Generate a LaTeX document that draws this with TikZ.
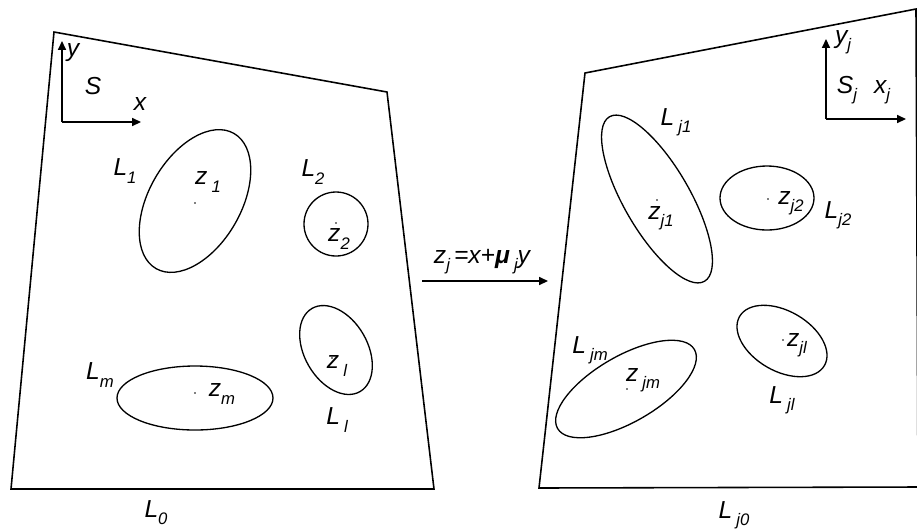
\documentclass[tikz,border=0pt]{standalone}
\usepackage{fontspec}
\setmainfont{Liberation Sans}
\usetikzlibrary{arrows.meta}
\newcommand{\idx}[1]{\raisebox{-0.55ex}{\fontsize{9.5}{10}\selectfont #1}}

\begin{document}
\begin{tikzpicture}[
    x=0.02cm, y=-0.02cm,
    plate/.style={line width=0.9pt, line join=miter},
    hole/.style={line width=0.75pt},
    axis/.style={-{Triangle[length=5pt, width=4.5pt]}, line width=0.8pt},
    lbl/.style={font=\fontsize{14}{16}\selectfont\itshape, inner sep=0pt},
    pt/.style={fill=black}
]
    \useasboundingbox (0,0) rectangle (917,529);

    % Plate S
    \draw[plate] (54,32) -- (387,92) -- (434,489) -- (11,489) -- cycle;
    \coordinate (o) at (62,122);
    \coordinate (oy) at (62,41);
    \coordinate (ox) at (141,122);
    \draw[axis] (o) -- (oy);
    \draw[axis] (o) -- (ox);
    \node[lbl] (ylab) at (73,53) {y};
    \node[lbl] (slab) at (93,86) {S};
    \node[lbl] (xlab) at (140,104) {x};

    % holes of S
    \draw[hole] (195,201) ellipse [x radius=78, y radius=46, rotate=60];
    \draw[hole] (336,224) circle (32);
    \draw[hole] (195,398) ellipse [x radius=78, y radius=32];
    \draw[hole] (336,350) ellipse [x radius=48, y radius=31.5, rotate=120];
    \fill[pt] (195,203) circle (0.8);
    \fill[pt] (336,223) circle (0.8);
    \fill[pt] (195,393) circle (0.8);
    \fill[pt] (332,358) circle (0.8);

    \node[lbl] (Lone) at (125,171) {L\idx{1}};
    \node[lbl] (zone) at (208,182) {z\,\idx{1}};
    \node[lbl] (Ltwo) at (313,172) {L\idx{2}};
    \node[lbl] (ztwo) at (339,239) {z\idx{2}};
    \node[lbl] (Lm) at (100,375) {L\idx{m}};
    \node[lbl] (zm) at (222,394) {z\idx{m}};
    \node[lbl] (zl) at (337,366) {z\,\idx{l}};
    \node[lbl] (Ll) at (337,420) {L\,\idx{l}};
    \node[lbl] (Lzero) at (156,513) {L\idx{0}};

    % mapping
    \coordinate (mapL) at (422,281);
    \coordinate (mapR) at (548,281);
    \draw[axis] (mapL) -- (mapR);
    \node[lbl] (map) at (482,262) {z\idx{j}\,=x+\textbf{μ}\,\idx{j}y};

    % Plate S_j
    \draw[plate] (916,9) -- (585,73) -- (539,488) -- (918,487) -- cycle;
    \coordinate (oj) at (826,119);
    \coordinate (ojy) at (826,39);
    \coordinate (ojx) at (906,119);
    \draw[axis] (oj) -- (ojy);
    \draw[axis] (oj) -- (ojx);
    \node[lbl] (yjlab) at (843,42) {y\idx{j}};
    \node[lbl] (sjlab) at (847,90) {S\idx{j}};
    \node[lbl] (xjlab) at (882,92) {x\idx{j}};

    % holes of S_j
    \draw[hole] (657,199) ellipse [x radius=95, y radius=33, rotate=120];
    \draw[hole] (767,198) ellipse [x radius=47, y radius=32];
    \draw[hole] (782,341) ellipse [x radius=49, y radius=30, rotate=150];
    \draw[hole] (626,389) ellipse [x radius=79, y radius=33, rotate=30];
    \fill[pt] (657,200) circle (0.8);
    \fill[pt] (768,199) circle (0.8);
    \fill[pt] (783,340) circle (0.8);
    \fill[pt] (627,389) circle (0.8);

    \node[lbl] (Ljone) at (676,122) {L\,\idx{j1}};
    \node[lbl] (zjone) at (661,218) {z\idx{j1}};
    \node[lbl] (zjtwo) at (791,203) {z\idx{j2}};
    \node[lbl] (Ljtwo) at (838,215) {L\idx{j2}};
    \node[lbl] (zjl) at (797,345) {z\idx{jl}};
    \node[lbl] (Ljl) at (782,400) {L\,\idx{jl}};
    \node[lbl] (Ljm) at (590,350) {L\,\idx{jm}};
    \node[lbl] (zjm) at (643,380) {z\,\idx{jm}};
    \node[lbl] (Ljzero) at (734,515) {L\,\idx{j0}};
\end{tikzpicture}
\end{document}
